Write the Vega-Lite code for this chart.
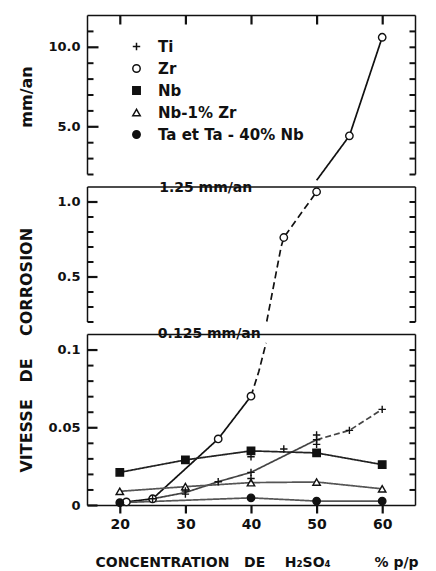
{
  "$schema": "https://vega.github.io/schema/vega-lite/v6.json",
  "background": "white",
  "padding": {"left": 18, "top": 13, "right": 17, "bottom": 4},
  "config": {
    "view": {"stroke": null},
    "font": "DejaVu Sans",
    "axis": {
      "labelFont": "DejaVu Sans", "labelFontWeight": "bold", "labelFontSize": 13, "labelColor": "#111",
      "domainColor": "#111", "domainWidth": 1.5, "tickRound": false,
      "grid": false, "labelFlush": false, "labelOverlap": false, "labelBound": false,
      "titleFont": "DejaVu Sans", "titleFontWeight": "bold", "titleColor": "#111"
    },
    "legend": {
      "symbolSize": 55,
      "labelFont": "DejaVu Sans", "labelFontWeight": "bold", "labelFontSize": 15, "labelColor": "#111",
      "rowPadding": 6, "labelOffset": 14, "padding": 0
    }
  },
  "title": {
    "text": "VITESSE\u00a0\u00a0\u00a0DE\u00a0\u00a0\u00a0\u00a0CORROSION\u00a0\u00a0\u00a0\u00a0\u00a0\u00a0\u00a0\u00a0\u00a0\u00a0\u00a0\u00a0\u00a0\u00a0\u00a0\u00a0\u00a0\u00a0mm/an",
    "orient": "left", "anchor": "middle", "font": "DejaVu Sans", "fontSize": 16, "fontWeight": "bold", "color": "#111", "offset": 13, "dx": 22
  },
  "datasets": {
    "pts": [
      {"s": "Zr", "c": 21, "v": 0.002, "p": "bas"},
      {"s": "Zr", "c": 25, "v": 0.004, "p": "bas"},
      {"s": "Zr", "c": 35, "v": 0.0425, "p": "bas"},
      {"s": "Zr", "c": 40, "v": 0.070, "p": "bas"},
      {"s": "Zr", "c": 45, "v": 0.76, "p": "milieu"},
      {"s": "Zr", "c": 50, "v": 1.065, "p": "milieu"},
      {"s": "Zr", "c": 55, "v": 4.4, "p": "haut"},
      {"s": "Zr", "c": 60, "v": 10.6, "p": "haut"},
      {"s": "Nb", "c": 20, "v": 0.021, "p": "bas"},
      {"s": "Nb", "c": 30, "v": 0.029, "p": "bas"},
      {"s": "Nb", "c": 40, "v": 0.0348, "p": "bas"},
      {"s": "Nb", "c": 50, "v": 0.0335, "p": "bas"},
      {"s": "Nb", "c": 60, "v": 0.026, "p": "bas"},
      {"s": "Nb-1% Zr", "c": 20, "v": 0.0088, "p": "bas"},
      {"s": "Nb-1% Zr", "c": 30, "v": 0.0118, "p": "bas"},
      {"s": "Nb-1% Zr", "c": 40, "v": 0.0144, "p": "bas"},
      {"s": "Nb-1% Zr", "c": 50, "v": 0.0148, "p": "bas"},
      {"s": "Nb-1% Zr", "c": 60, "v": 0.0104, "p": "bas"},
      {"s": "Ta et Ta - 40% Nb", "c": 20, "v": 0.0015, "p": "bas"},
      {"s": "Ta et Ta - 40% Nb", "c": 40, "v": 0.0046, "p": "bas"},
      {"s": "Ta et Ta - 40% Nb", "c": 50, "v": 0.0025, "p": "bas"},
      {"s": "Ta et Ta - 40% Nb", "c": 60, "v": 0.0025, "p": "bas"},
      {"s": "Ti", "c": 25, "v": 0.004, "p": "bas"},
      {"s": "Ti", "c": 30, "v": 0.007, "p": "bas"},
      {"s": "Ti", "c": 30, "v": 0.009, "p": "bas"},
      {"s": "Ti", "c": 35, "v": 0.015, "p": "bas"},
      {"s": "Ti", "c": 40, "v": 0.017, "p": "bas"},
      {"s": "Ti", "c": 40, "v": 0.021, "p": "bas"},
      {"s": "Ti", "c": 40, "v": 0.031, "p": "bas"},
      {"s": "Ti", "c": 40, "v": 0.035, "p": "bas"},
      {"s": "Ti", "c": 45, "v": 0.036, "p": "bas"},
      {"s": "Ti", "c": 50, "v": 0.039, "p": "bas"},
      {"s": "Ti", "c": 50, "v": 0.042, "p": "bas"},
      {"s": "Ti", "c": 50, "v": 0.045, "p": "bas"},
      {"s": "Ti", "c": 55, "v": 0.048, "p": "bas"},
      {"s": "Ti", "c": 60, "v": 0.0615, "p": "bas"}
    ],
    "lns": [
      {"g": "Zr", "c": 21, "v": 0.002, "p": "bas"},
      {"g": "Zr", "c": 25, "v": 0.004, "p": "bas"},
      {"g": "Zr", "c": 35, "v": 0.0425, "p": "bas"},
      {"g": "Zr", "c": 40, "v": 0.070, "p": "bas"},
      {"g": "Zr (tirets)", "c": 40, "v": 0.070, "p": "bas"},
      {"g": "Zr (tirets)", "c": 41.2, "v": 0.086, "p": "bas"},
      {"g": "Zr (tirets)", "c": 42.3, "v": 0.1043, "p": "bas"},
      {"g": "Zr (tirets)", "c": 42.4, "v": 0.2, "p": "milieu"},
      {"g": "Zr (tirets)", "c": 43.5, "v": 0.45, "p": "milieu"},
      {"g": "Zr (tirets)", "c": 44.6, "v": 0.70, "p": "milieu"},
      {"g": "Zr (tirets)", "c": 45, "v": 0.76, "p": "milieu"},
      {"g": "Zr (tirets)", "c": 50, "v": 1.065, "p": "milieu"},
      {"g": "Zr", "c": 50, "v": 1.6, "p": "haut"},
      {"g": "Zr", "c": 55, "v": 4.4, "p": "haut"},
      {"g": "Zr", "c": 60, "v": 10.6, "p": "haut"},
      {"g": "Ti", "c": 25, "v": 0.004, "p": "bas"},
      {"g": "Ti", "c": 30, "v": 0.008, "p": "bas"},
      {"g": "Ti", "c": 35, "v": 0.015, "p": "bas"},
      {"g": "Ti", "c": 40, "v": 0.021, "p": "bas"},
      {"g": "Ti", "c": 50, "v": 0.042, "p": "bas"},
      {"g": "Ti (tirets)", "c": 50, "v": 0.042, "p": "bas"},
      {"g": "Ti (tirets)", "c": 55, "v": 0.048, "p": "bas"},
      {"g": "Ti (tirets)", "c": 60, "v": 0.0615, "p": "bas"},
      {"g": "Nb", "c": 20, "v": 0.021, "p": "bas"},
      {"g": "Nb", "c": 30, "v": 0.029, "p": "bas"},
      {"g": "Nb", "c": 40, "v": 0.0348, "p": "bas"},
      {"g": "Nb", "c": 50, "v": 0.0335, "p": "bas"},
      {"g": "Nb", "c": 60, "v": 0.026, "p": "bas"},
      {"g": "Nb-1% Zr", "c": 20, "v": 0.0088, "p": "bas"},
      {"g": "Nb-1% Zr", "c": 30, "v": 0.0118, "p": "bas"},
      {"g": "Nb-1% Zr", "c": 40, "v": 0.0144, "p": "bas"},
      {"g": "Nb-1% Zr", "c": 50, "v": 0.0148, "p": "bas"},
      {"g": "Nb-1% Zr", "c": 60, "v": 0.0104, "p": "bas"},
      {"g": "Ta et Ta - 40% Nb", "c": 20, "v": 0.0015, "p": "bas"},
      {"g": "Ta et Ta - 40% Nb", "c": 40, "v": 0.0046, "p": "bas"},
      {"g": "Ta et Ta - 40% Nb", "c": 50, "v": 0.0025, "p": "bas"},
      {"g": "Ta et Ta - 40% Nb", "c": 60, "v": 0.0025, "p": "bas"}
    ]
  },
  "spacing": 12.5,
  "bounds": "flush",
  "vconcat": [
    {
      "width": 328, "height": 159,
      "resolve": {"axis": {"x": "independent", "y": "independent"}},
      "layer": [
        {
          "data": {"name": "lns"},
          "transform": [{"filter": "datum.p == 'haut'"}],
          "mark": {"type": "line", "clip": false},
          "encoding": {
            "x": {"field": "c", "type": "quantitative", "scale": {"domain": [15, 65]},
              "axis": {"orient": "top", "values": [20, 30, 40, 50, 60], "labels": false, "ticks": true, "tickSize": -9, "tickColor": "#111", "tickWidth": 2.2, "title": null}},
            "y": {"field": "v", "type": "quantitative", "scale": {"domain": [2, 11.8]},
              "axis": {"orient": "left", "values": [2, 3, 4, 6, 7, 8, 9, 11], "labels": false, "ticks": true, "tickSize": -6, "tickColor": "#111", "tickWidth": 2, "title": null}},
            "detail": {"field": "g"},
            "strokeDash": {"field": "g", "type": "nominal", "legend": null,
              "scale": {"domain": ["Zr", "Zr (tirets)", "Ti", "Ti (tirets)", "Nb", "Nb-1% Zr", "Ta et Ta - 40% Nb"],
                "range": [[1, 0], [7, 4], [1, 0], [6, 3], [1, 0], [1, 0], [1, 0]]}},
            "strokeWidth": {"field": "g", "type": "nominal", "legend": null,
              "scale": {"domain": ["Zr", "Zr (tirets)", "Ti", "Ti (tirets)", "Nb", "Nb-1% Zr", "Ta et Ta - 40% Nb"],
                "range": [1.7, 1.7, 1.1, 1.1, 1.6, 1.1, 1.1]}},
            "color": {"field": "g", "type": "nominal", "legend": null,
              "scale": {"domain": ["Zr", "Zr (tirets)", "Ti", "Ti (tirets)", "Nb", "Nb-1% Zr", "Ta et Ta - 40% Nb"],
                "range": ["#111", "#111", "#444", "#444", "#222", "#555", "#555"]}}
          }
        },
        {
          "data": {"name": "pts"},
          "transform": [{"filter": "datum.p == 'haut'"}],
          "mark": {"type": "point", "stroke": "#111", "strokeWidth": 1.4, "opacity": 1, "size": 55, "clip": false},
          "encoding": {
            "x": {"field": "c", "type": "quantitative", "axis": null},
            "y": {"field": "v", "type": "quantitative",
              "axis": {"orient": "right", "values": [2, 3, 4, 5, 6, 7, 8, 9, 10, 11], "labels": false, "ticks": true,
                "tickSize": -6, "tickColor": "#111", "tickWidth": 2, "title": null}},
            "shape": {"field": "s", "type": "nominal",
              "scale": {"domain": ["Ti", "Zr", "Nb", "Nb-1% Zr", "Ta et Ta - 40% Nb"],
                "range": ["M-1,0H1M0,-1V1", "circle", "square", "triangle-up", "circle"]},
              "legend": {"title": null, "orient": "none", "legendX": 42, "legendY": 24,
                "encode": {"symbols": {"update": {"stroke": {"value": "#111"}, "strokeWidth": {"value": 1.4}}}}}},
            "fill": {"field": "s", "type": "nominal",
              "scale": {"domain": ["Ti", "Zr", "Nb", "Nb-1% Zr", "Ta et Ta - 40% Nb"],
                "range": ["white", "white", "#111", "white", "#111"]},
              "legend": {"title": null, "orient": "none", "legendX": 42, "legendY": 24,
                "encode": {"symbols": {"update": {"stroke": {"value": "#111"}, "strokeWidth": {"value": 1.4}}}}}}
          }
        },
        {
          "data": {"values": [{}]},
          "mark": {"type": "text", "text": ""},
          "encoding": {
            "x": {"datum": 20, "type": "quantitative", "axis": null},
            "y": {"datum": 5, "type": "quantitative",
              "axis": {"orient": "left", "values": [5, 10], "format": ".1f", "ticks": true, "tickSize": -11, "tickColor": "#111", "tickWidth": 2.2,
                "labelPadding": 18, "domain": false, "title": null}}
          }
        }
      ]
    },
    {
      "width": 328, "height": 135,
      "resolve": {"axis": {"x": "independent", "y": "independent"}},
      "layer": [
        {
          "data": {"name": "lns"},
          "transform": [{"filter": "datum.p == 'milieu'"}],
          "mark": {"type": "line", "clip": false},
          "encoding": {
            "x": {"field": "c", "type": "quantitative", "scale": {"domain": [15, 65]},
              "axis": {"orient": "top", "labels": false, "ticks": false, "title": null}},
            "y": {"field": "v", "type": "quantitative", "scale": {"domain": [0.2, 1.025]},
              "axis": {"orient": "left", "values": [0.2, 0.3, 0.4, 0.6, 0.7, 0.8, 0.9], "labels": false, "ticks": true,
                "tickSize": -6, "tickColor": "#111", "tickWidth": 2, "title": null}},
            "detail": {"field": "g"},
            "strokeDash": {"field": "g", "type": "nominal", "legend": null},
            "strokeWidth": {"field": "g", "type": "nominal", "legend": null},
            "color": {"field": "g", "type": "nominal", "legend": null}
          }
        },
        {
          "data": {"name": "pts"},
          "transform": [{"filter": "datum.p == 'milieu'"}],
          "mark": {"type": "point", "stroke": "#111", "strokeWidth": 1.4, "opacity": 1, "size": 55, "clip": false},
          "encoding": {
            "x": {"field": "c", "type": "quantitative", "axis": null},
            "y": {"field": "v", "type": "quantitative",
              "axis": {"orient": "right", "values": [0.2, 0.3, 0.4, 0.5, 0.6, 0.7, 0.8, 0.9, 1.0], "labels": false, "ticks": true,
                "tickSize": -6, "tickColor": "#111", "tickWidth": 2, "title": null}},
            "shape": {"field": "s", "type": "nominal", "legend": {"title": null, "orient": "none", "legendX": 42, "legendY": 24,
                "encode": {"symbols": {"update": {"stroke": {"value": "#111"}, "strokeWidth": {"value": 1.4}}}}}},
            "fill": {"field": "s", "type": "nominal", "legend": {"title": null, "orient": "none", "legendX": 42, "legendY": 24,
                "encode": {"symbols": {"update": {"stroke": {"value": "#111"}, "strokeWidth": {"value": 1.4}}}}}}
          }
        },
        {
          "data": {"values": [{}]},
          "mark": {"type": "text", "align": "left", "baseline": "bottom", "dy": -3, "font": "DejaVu Sans", "fontWeight": "bold", "fontSize": 14, "color": "#111"},
          "encoding": {
            "x": {"datum": 26, "type": "quantitative", "axis": null},
            "y": {"datum": 1.025, "type": "quantitative",
              "axis": {"orient": "left", "values": [0.5, 1.0], "format": ".1f", "ticks": true, "tickSize": -10, "tickColor": "#111", "tickWidth": 2.2,
                "labelPadding": 17, "domain": false, "title": null}},
            "text": {"value": "1.25 mm/an"}
          }
        }
      ]
    },
    {
      "width": 328, "height": 171,
      "resolve": {"axis": {"x": "independent", "y": "independent"}},
      "layer": [
        {
          "data": {"name": "lns"},
          "transform": [{"filter": "datum.p == 'bas'"}],
          "mark": {"type": "line", "clip": false},
          "encoding": {
            "x": {"field": "c", "type": "quantitative", "scale": {"domain": [15, 65]},
              "axis": {"orient": "top", "labels": false, "ticks": false, "title": null}},
            "y": {"field": "v", "type": "quantitative", "scale": {"domain": [0, 0.1043]},
              "axis": {"orient": "left", "values": [0.01, 0.02, 0.03, 0.04, 0.06, 0.07, 0.08, 0.09], "labels": false, "ticks": true,
                "tickSize": -6, "tickColor": "#111", "tickWidth": 2, "title": null}},
            "detail": {"field": "g"},
            "strokeDash": {"field": "g", "type": "nominal", "legend": null},
            "strokeWidth": {"field": "g", "type": "nominal", "legend": null},
            "color": {"field": "g", "type": "nominal", "legend": null}
          }
        },
        {
          "data": {"name": "pts"},
          "transform": [{"filter": "datum.p == 'bas'"}],
          "mark": {"type": "point", "stroke": "#111", "strokeWidth": 1.4, "opacity": 1, "size": 55, "clip": false},
          "encoding": {
            "x": {"field": "c", "type": "quantitative",
              "axis": {"orient": "bottom", "values": [20, 30, 40, 50, 60], "ticks": true, "tickSize": 8, "tickColor": "#111", "tickWidth": 2.2,
                "labelPadding": 4, "labelFontSize": 14,
                "title": "CONCENTRATION\u00a0\u00a0\u00a0DE\u00a0\u00a0\u00a0\u00a0H\u2082SO\u2084\u00a0\u00a0\u00a0\u00a0\u00a0\u00a0\u00a0\u00a0\u00a0% p/p",
                "titleFontSize": 14, "titleX": 8, "titleY": 50, "titleAlign": "left", "titleBaseline": "top"}},
            "y": {"field": "v", "type": "quantitative",
              "axis": {"orient": "right", "values": [0.01, 0.02, 0.03, 0.04, 0.05, 0.06, 0.07, 0.08, 0.09, 0.1], "labels": false, "ticks": true,
                "tickSize": -6, "tickColor": "#111", "tickWidth": 2, "title": null}},
            "shape": {"field": "s", "type": "nominal", "legend": {"title": null, "orient": "none", "legendX": 42, "legendY": 24,
                "encode": {"symbols": {"update": {"stroke": {"value": "#111"}, "strokeWidth": {"value": 1.4}}}}}},
            "fill": {"field": "s", "type": "nominal", "legend": {"title": null, "orient": "none", "legendX": 42, "legendY": 24,
                "encode": {"symbols": {"update": {"stroke": {"value": "#111"}, "strokeWidth": {"value": 1.4}}}}}}
          }
        },
        {
          "data": {"values": [{}]},
          "mark": {"type": "text", "align": "left", "baseline": "bottom", "dy": -2, "font": "DejaVu Sans", "fontWeight": "bold", "fontSize": 14, "color": "#111"},
          "encoding": {
            "x": {"datum": 25.8, "type": "quantitative", "axis": null},
            "y": {"datum": 0.1043, "type": "quantitative",
              "axis": {"orient": "left", "values": [0, 0.05, 0.1], "labelExpr": "datum.value == 0 ? '0' : datum.value == 0.05 ? '0.05' : '0.1'",
                "ticks": true, "tickSize": -10, "tickColor": "#111", "tickWidth": 2.2, "labelPadding": 17, "domain": false, "title": null}},
            "text": {"value": "0.125 mm/an"}
          }
        }
      ]
    }
  ]
}
